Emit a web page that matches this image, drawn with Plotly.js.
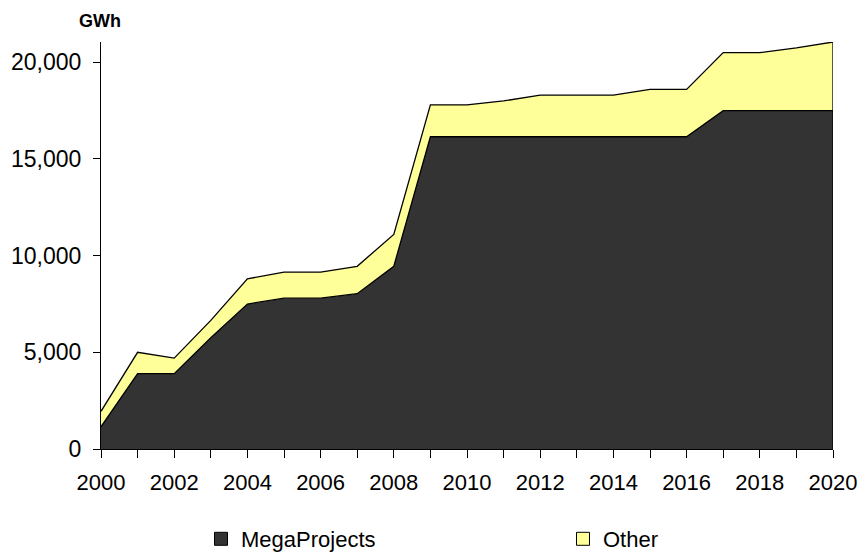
<!DOCTYPE html>
<html>
<head>
<meta charset="utf-8">
<script src="https://cdn.plot.ly/plotly-3.0.1.min.js"></script>
<style>
html,body{margin:0;padding:0;background:#fff;}
#chart{width:859px;height:553px;}
</style>
</head>
<body>
<div id="chart"></div>
<script>
var years = [2000,2001,2002,2003,2004,2005,2006,2007,2008,2009,2010,2011,2012,2013,2014,2015,2016,2017,2018,2019,2020];
var megaProjects = [1150,3900,3900,5750,7500,7800,7800,8030,9450,16150,16150,16150,16150,16150,16150,16150,16150,17500,17500,17500,17500];
var other = [800,1100,800,900,1300,1350,1350,1420,1650,1650,1650,1850,2150,2150,2150,2450,2450,3000,3000,3250,3550];
var seriesNames = ["MegaProjects","Other"];
var colors = ["#333333","#FFFF99"];

var n = years.length;
var lastTotal = megaProjects[n-1] + other[n-1];

var font = "Liberation Sans, Arial, sans-serif";

var traces = [
  {type:"scatter", x:years, y:megaProjects, stackgroup:"one", mode:"lines",
   line:{color:"#000", width:1.3}, fillcolor:colors[0], showlegend:false, cliponaxis:false, hoverinfo:"x+y"},
  {type:"scatter", x:years, y:other, stackgroup:"one", mode:"lines",
   line:{color:"#000", width:1.3}, fillcolor:colors[1], showlegend:false, cliponaxis:false, hoverinfo:"x+y"},
  {type:"scatter", x:[years[n-1], years[n-1]], y:[0, lastTotal], mode:"lines",
   line:{color:"#000", width:1.3}, showlegend:false, cliponaxis:false, hoverinfo:"skip"},
  {type:"scatter", x:[null], y:[null], mode:"markers", name:seriesNames[0], legend:"legend",
   marker:{symbol:"square", size:13, color:colors[0], line:{color:"#000", width:1}}},
  {type:"scatter", x:[null], y:[null], mode:"markers", name:seriesNames[1], legend:"legend2",
   marker:{symbol:"square", size:13, color:colors[1], line:{color:"#000", width:1}}}
];

var legendFont = {family:font, size:22, color:"#000"};

var layout = {
  width:859, height:553,
  margin:{l:101, r:26, t:42, b:104, pad:0},
  paper_bgcolor:"#fff", plot_bgcolor:"#fff",
  font:{family:font, color:"#000", size:20},
  showlegend:true,
  legend:{orientation:"h", xref:"container", yref:"container", x:(204-3)/859, y:1-539/553,
          xanchor:"left", yanchor:"middle", font:legendFont, bgcolor:"rgba(0,0,0,0)"},
  legend2:{orientation:"h", xref:"container", yref:"container", x:(566-3)/859, y:1-539/553,
          xanchor:"left", yanchor:"middle", font:legendFont, bgcolor:"rgba(0,0,0,0)"},
  xaxis:{range:[2000,2020], dtick:2, tick0:2000, showgrid:false, zeroline:false,
         showline:true, linecolor:"#000", linewidth:1, ticks:"outside", ticklen:8, tickcolor:"#000",
         tickfont:{family:font, size:22, color:"#000"}, ticklabelstandoff:6,
         minor:{dtick:1, ticks:"outside", ticklen:8, tickcolor:"#000", showgrid:false}},
  yaxis:{range:[0,21050], dtick:5000, tick0:0, tickformat:",", showgrid:false, zeroline:false,
         showline:true, linecolor:"#000", linewidth:1, ticks:"outside", ticklen:7, tickcolor:"#000",
         tickfont:{family:font, size:23, color:"#000"}, ticklabelstandoff:7},
  annotations:[{text:"<b>GWh</b>", xref:"paper", yref:"paper", x:0, y:1+(42-21)/407,
                xanchor:"center", yanchor:"middle", xshift:-1, showarrow:false,
                font:{family:font, size:18, color:"#000"}}]
};

Plotly.newPlot("chart", traces, layout, {displayModeBar:false, staticPlot:true});
</script>
</body>
</html>
